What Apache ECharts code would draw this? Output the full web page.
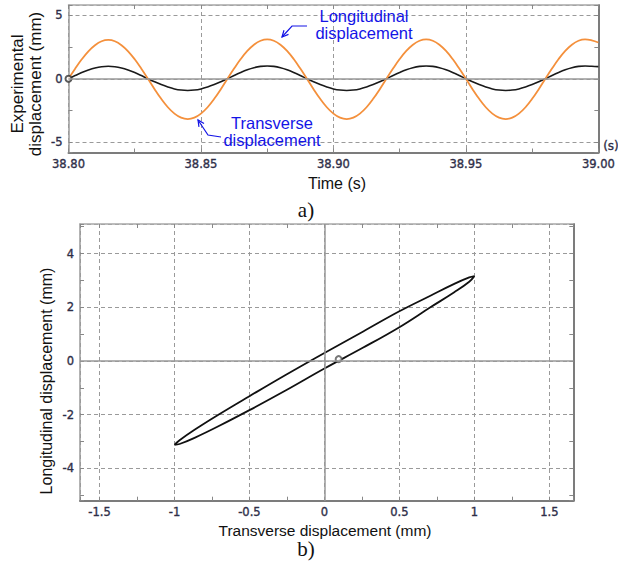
<!DOCTYPE html>
<html>
<head>
<meta charset="utf-8">
<script src="https://cdn.jsdelivr.net/npm/echarts@6/dist/echarts.min.js"></script>
<style>
html,body{margin:0;padding:0;background:#fff;}
#c{width:618px;height:566px;}
</style>
</head>
<body>
<div id="c"></div>
<script>
// ---------- data ----------
// (a) time history
const timeS = [
  38.8000, 38.8025, 38.8050, 38.8075, 38.8100, 38.8125, 38.8150, 38.8175, 38.8200, 38.8225,
  38.8250, 38.8275, 38.8300, 38.8325, 38.8350, 38.8375, 38.8400, 38.8425, 38.8450, 38.8475,
  38.8500, 38.8525, 38.8550, 38.8575, 38.8600, 38.8625, 38.8650, 38.8675, 38.8700, 38.8725,
  38.8750, 38.8775, 38.8800, 38.8825, 38.8850, 38.8875, 38.8900, 38.8925, 38.8950, 38.8975,
  38.9000, 38.9025, 38.9050, 38.9075, 38.9100, 38.9125, 38.9150, 38.9175, 38.9200, 38.9225,
  38.9250, 38.9275, 38.9300, 38.9325, 38.9350, 38.9375, 38.9400, 38.9425, 38.9450, 38.9475,
  38.9500, 38.9525, 38.9550, 38.9575, 38.9600, 38.9625, 38.9650, 38.9675, 38.9700, 38.9725,
  38.9750, 38.9775, 38.9800, 38.9825, 38.9850, 38.9875, 38.9900, 38.9925, 38.9950, 38.9975,
  39.0000];
const longitudinalMm = [
  0, 0.79, 1.53, 2.16, 2.64, 2.95, 3.05, 2.95, 2.64, 2.16, 1.53, 0.79,
  0, -0.82, -1.58, -2.24, -2.74, -3.06, -3.17, -3.06, -2.74, -2.24, -1.58, -0.82,
  0, 0.80, 1.55, 2.19, 2.68, 2.99, 3.1, 2.99, 2.68, 2.19, 1.55, 0.80,
  0, -0.82, -1.58, -2.24, -2.74, -3.06, -3.17, -3.06, -2.74, -2.24, -1.58, -0.82,
  0, 0.80, 1.55, 2.19, 2.68, 2.99, 3.1, 2.99, 2.68, 2.19, 1.55, 0.80,
  0, -0.82, -1.58, -2.24, -2.74, -3.06, -3.17, -3.06, -2.74, -2.24, -1.58, -0.82,
  0, 0.80, 1.55, 2.19, 2.68, 2.99, 3.1, 3.02, 2.85];
const transverseMm = [
  0, 0.25, 0.49, 0.69, 0.85, 0.95, 0.98, 0.95, 0.85, 0.69, 0.49, 0.25,
  0, -0.24, -0.46, -0.65, -0.8, -0.89, -0.92, -0.89, -0.8, -0.65, -0.46, -0.24,
  0, 0.26, 0.5, 0.71, 0.87, 0.97, 1.0, 0.97, 0.87, 0.71, 0.5, 0.26,
  0, -0.24, -0.46, -0.65, -0.8, -0.89, -0.92, -0.89, -0.8, -0.65, -0.46, -0.24,
  0, 0.26, 0.5, 0.71, 0.87, 0.97, 1.0, 0.97, 0.87, 0.71, 0.5, 0.26,
  0, -0.24, -0.46, -0.65, -0.8, -0.89, -0.92, -0.89, -0.8, -0.65, -0.46, -0.24,
  0, 0.26, 0.5, 0.71, 0.87, 0.97, 1.0, 0.98, 0.95];
const startMarkerA = [38.800, 0];
const tickLabelsAX = ['38.80', '38.85', '38.90', '38.95', '39.00'];
const tickLabelsAY = ['-5', '0', '5'];

// (b) longitudinal vs transverse loop
const loopTransverse = [-1, -0.966, -0.866, -0.707, -0.5, -0.259, 0, 0.259, 0.5, 0.707, 0.866, 0.966, 1,
  0.966, 0.866, 0.707, 0.5, 0.259, 0, -0.259, -0.5, -0.707, -0.866, -0.966, -1];
const loopLongitudinal = [-3.12, -2.95, -2.56, -2.0, -1.31, -0.52, 0.3, 1.1, 1.85, 2.43, 2.87, 3.11, 3.16,
  2.95, 2.56, 2.0, 1.26, 0.5, -0.28, -1.1, -1.83, -2.43, -2.86, -3.09, -3.12];
const loopStart = [0.095, 0.07];
const tickLabelsBX = ['-1.5', '-1', '-0.5', '0', '0.5', '1', '1.5'];
const tickLabelsBY = ['-4', '-2', '0', '2', '4'];

// ---------- styling ----------
const TICK_FONT = 'DejaVu Sans';
const TICK_COLOR = '#2e2e48';
const SANS = 'Liberation Sans';
const SERIF = 'Liberation Serif';

function fmt(labels, digits) {
  return function (v) {
    const s = digits != null ? v.toFixed(digits) : String(Math.round(v * 1000) / 1000);
    return labels.indexOf(s) >= 0 ? s : '';
  };
}

function axis(gi, pos, min, max, major, primary, labels, digits, lineColor, lineWidth) {
  return {
    type: 'value', gridIndex: gi, position: pos, min: min, max: max,
    minInterval: major, maxInterval: major, splitNumber: 5,
    axisLine: {show: true, onZero: false, lineStyle: {color: lineColor, width: lineWidth}},
    axisTick: {show: true, inside: true, length: 4, lineStyle: {color: '#888', width: 1}},
    minorTick: {show: true, splitNumber: 2, length: 4, lineStyle: {color: '#888', width: 1}},
    axisLabel: primary ? {
      show: true, formatter: fmt(labels, digits), color: TICK_COLOR,
      fontFamily: TICK_FONT, fontSize: 11.5, margin: pos === 'left' ? 6 : 5,
      textBorderColor: TICK_COLOR, textBorderWidth: 0.35
    } : {show: false},
    splitLine: primary ? {show: true, lineStyle: {color: '#9a9a9a', type: [4, 3], width: 1}} : {show: false},
    minorSplitLine: {show: false}
  };
}

function arrowEls(pts, color) {
  const n = pts.length;
  const tip = pts[n - 1], prev = pts[n - 2];
  const dx = tip[0] - prev[0], dy = tip[1] - prev[1];
  const L = Math.sqrt(dx * dx + dy * dy);
  const ux = dx / L, uy = dy / L;
  const a = 0.45, h = 7;
  const p1 = [tip[0] - h * (ux * Math.cos(a) - uy * Math.sin(a)), tip[1] - h * (uy * Math.cos(a) + ux * Math.sin(a))];
  const p2 = [tip[0] - h * (ux * Math.cos(a) + uy * Math.sin(a)), tip[1] - h * (uy * Math.cos(a) - ux * Math.sin(a))];
  return [
    {type: 'polyline', shape: {points: pts}, style: {stroke: color, lineWidth: 1.2, fill: null}, z: 100},
    {type: 'polyline', shape: {points: [p1, tip, p2]}, style: {stroke: color, lineWidth: 1.2, fill: null}, z: 100}
  ];
}

const chart = echarts.init(document.getElementById('c'), null, {renderer: 'svg', width: 618, height: 566});

const BLUE = '#1414e6';
const graphics = [
  {type: 'text', x: 26, y: 84, rotation: Math.PI / 2, z: 100,
    style: {text: 'Experimental\ndisplacement (mm)', font: '17px "' + SANS + '"', fill: '#111', align: 'center', verticalAlign: 'middle', lineHeight: 18}},
  {type: 'text', x: 337, y: 183, z: 100,
    style: {text: 'Time (s)', font: '16px "' + SANS + '"', fill: '#111', align: 'center', verticalAlign: 'middle'}},
  {type: 'text', x: 611, y: 146, z: 100,
    style: {text: '(s)', font: '12px "' + TICK_FONT + '"', fill: TICK_COLOR, align: 'center', verticalAlign: 'middle', stroke: TICK_COLOR, lineWidth: 0.35}},
  {type: 'text', x: 306, y: 210, z: 100,
    style: {text: 'a)', font: '21px "' + SERIF + '"', fill: '#111', align: 'center', verticalAlign: 'middle'}},
  {type: 'text', x: 364, y: 24, z: 100,
    style: {text: 'Longitudinal\ndisplacement', font: '16.5px "' + SANS + '"', fill: BLUE, align: 'center', verticalAlign: 'middle', lineHeight: 17}},
  {type: 'text', x: 272, y: 131.5, z: 100,
    style: {text: 'Transverse\ndisplacement', font: '16.5px "' + SANS + '"', fill: BLUE, align: 'center', verticalAlign: 'middle', lineHeight: 17}},
  {type: 'text', x: 46, y: 381, rotation: Math.PI / 2, z: 100,
    style: {text: 'Longitudinal displacement (mm)', font: '16px "' + SANS + '"', fill: '#111', align: 'center', verticalAlign: 'middle'}},
  {type: 'text', x: 325, y: 530, z: 100,
    style: {text: 'Transverse displacement (mm)', font: '15.5px "' + SANS + '"', fill: '#111', align: 'center', verticalAlign: 'middle'}},
  {type: 'text', x: 306, y: 549, z: 100,
    style: {text: 'b)', font: '21px "' + SERIF + '"', fill: '#111', align: 'center', verticalAlign: 'middle'}}
].concat(arrowEls([[307, 26], [292, 26], [282, 37]], BLUE))
 .concat(arrowEls([[221, 137], [208, 135], [198, 120]], BLUE));

const zeroLine = {color: '#999', type: 'solid', width: 1.5};

chart.setOption({
  animation: false,
  backgroundColor: '#fff',
  grid: [
    {left: 68.5, top: 5, width: 532.5, height: 147.5},
    {left: 80, top: 224, width: 493.3, height: 276.7}
  ],
  xAxis: [
    axis(0, 'bottom', 38.8, 39.0, 0.05, true, tickLabelsAX, 2, '#7c7c7c', 2),
    axis(0, 'top', 38.8, 39.0, 0.05, false, null, null, '#a8a8a8', 1.5),
    axis(1, 'bottom', -1.63, 1.66, 0.5, true, tickLabelsBX, null, '#7c7c7c', 2),
    axis(1, 'top', -1.63, 1.66, 0.5, false, null, null, '#a8a8a8', 1.5)
  ],
  yAxis: [
    axis(0, 'left', -5.8, 5.8, 5, true, tickLabelsAY, null, '#9a9a9a', 1.5),
    axis(0, 'right', -5.8, 5.8, 5, false, null, null, '#7c7c7c', 2),
    axis(1, 'left', -5.2, 5.1, 2, true, tickLabelsBY, null, '#9a9a9a', 1.5),
    axis(1, 'right', -5.2, 5.1, 2, false, null, null, '#7c7c7c', 2)
  ],
  series: [
    {
      type: 'line', xAxisIndex: 0, yAxisIndex: 0, z: 2,
      data: timeS.map((t, i) => [t, transverseMm[i]]),
      smooth: 0.4, showSymbol: false, lineStyle: {color: '#1a1a1a', width: 1.6},
      markLine: {silent: true, symbol: 'none', label: {show: false}, lineStyle: zeroLine, data: [{yAxis: 0}]}
    },
    {
      type: 'line', xAxisIndex: 0, yAxisIndex: 0, z: 3,
      data: timeS.map((t, i) => [t, longitudinalMm[i]]),
      smooth: 0.4, showSymbol: false, lineStyle: {color: '#f4903c', width: 1.8}
    },
    {
      type: 'scatter', xAxisIndex: 0, yAxisIndex: 0, z: 4,
      data: [startMarkerA], symbol: 'emptyCircle', symbolSize: 6,
      itemStyle: {color: '#333', borderColor: '#333', borderWidth: 1}
    },
    {
      type: 'line', xAxisIndex: 2, yAxisIndex: 2, z: 3,
      data: loopTransverse.map((x, i) => [x, loopLongitudinal[i]]),
      smooth: 0.4, showSymbol: false, lineStyle: {color: '#111', width: 1.8},
      markLine: {silent: true, symbol: 'none', label: {show: false}, lineStyle: zeroLine, data: [{xAxis: 0}, {yAxis: 0}]}
    },
    {
      type: 'scatter', xAxisIndex: 2, yAxisIndex: 2, z: 4,
      data: [loopStart], symbol: 'emptyCircle', symbolSize: 6,
      itemStyle: {color: '#555', borderColor: '#555', borderWidth: 1}
    }
  ],
  graphic: graphics
});
</script>
</body>
</html>
